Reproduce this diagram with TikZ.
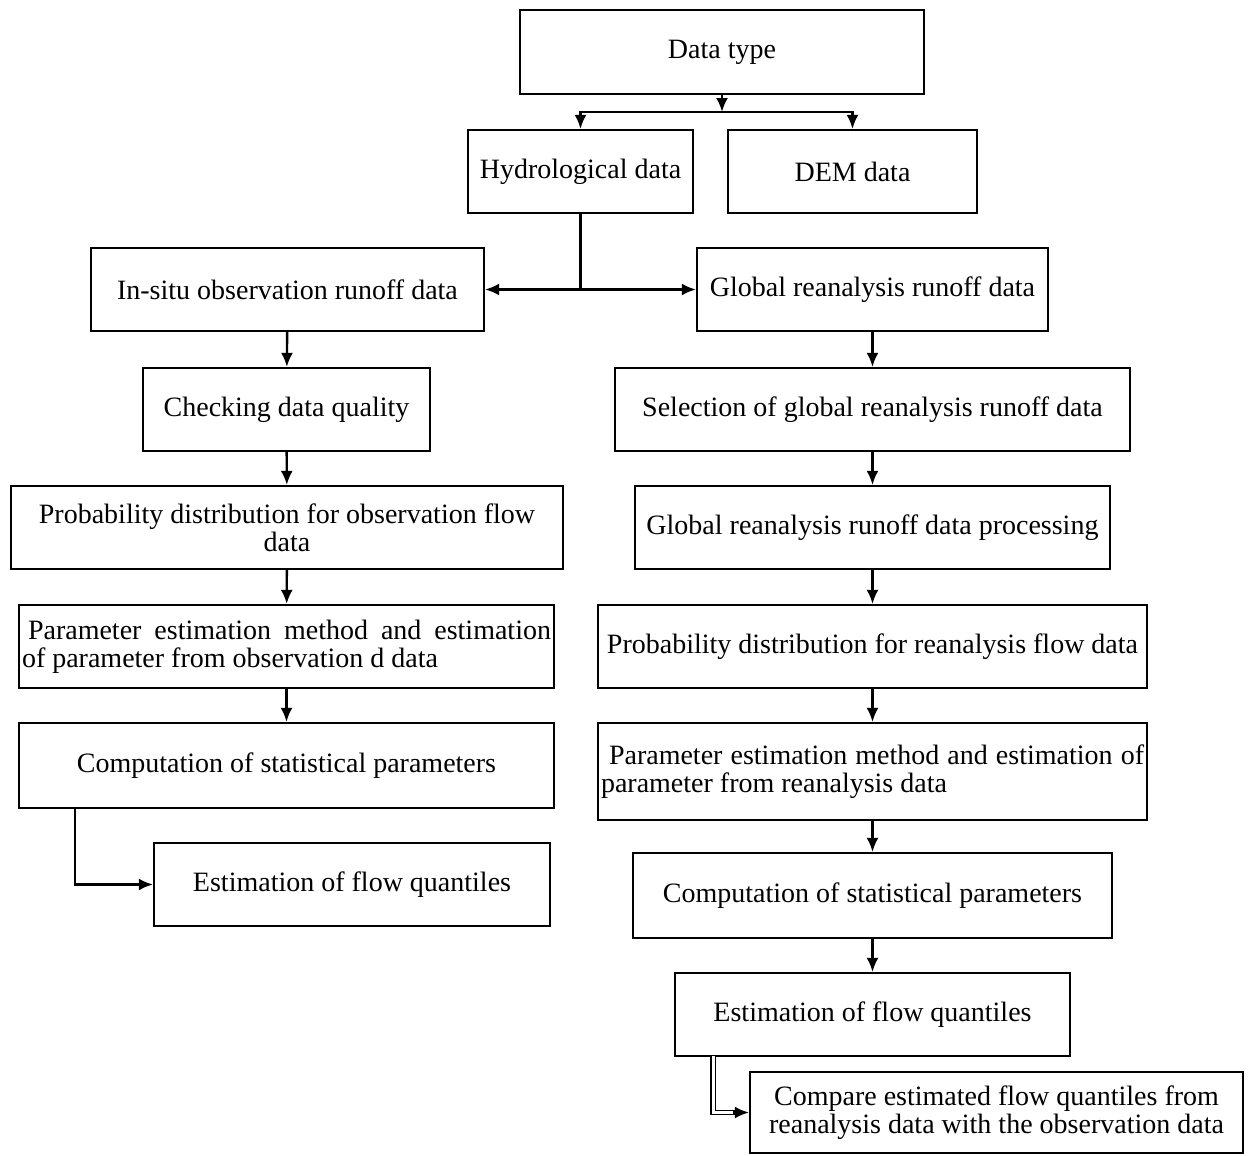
\documentclass[tikz,border=0pt]{standalone}
\usepackage{fontspec}
\setmainfont{Liberation Serif}
\usetikzlibrary{arrows.meta}
\begin{document}
\begin{tikzpicture}[x=1pt,y=-1pt,
  box/.style={draw=black, line width=2.2pt, rectangle, inner sep=3pt, align=center,
    font=\fontsize{28}{28}\selectfont, text=black},
  jbox/.style={box, align=justify},
  arr/.style={line width=2.4pt, -{Latex[length=14pt,width=12pt]}},
  ln/.style={line width=2.4pt}]
\useasboundingbox (0,0) rectangle (1248,1156);
\fill[white] (0,0) rectangle (1248,1156);
% top
\node[box, minimum width=404pt, minimum height=84pt] (dtype) at (722,52) {Data type};
\node[box, minimum width=225pt, minimum height=83pt] (hydro) at (580.5,171.5) {Hydrological data};
\node[box, minimum width=249pt, minimum height=83pt] (dem) at (852.5,171.5) {DEM data};
% left column
\node[box, minimum width=393pt, minimum height=83pt] (insitu) at (287.5,289.5) {In-situ observation runoff data};
\node[box, minimum width=287pt, minimum height=83pt] (check) at (286.5,409.5) {Checking data quality};
\node[box, minimum width=552pt, minimum height=83pt] (probobs) at (287,527.5) {Probability distribution for observation flow\\data};
\node[jbox, minimum width=535pt, minimum height=83pt, text width=529pt] (paramobs) at (286.5,646.5) {\hspace*{6pt}Parameter estimation method and estimation\linebreak of parameter from observation d data};
\node[box, minimum width=535pt, minimum height=85pt] (compobs) at (286.5,765.5) {Computation of statistical parameters};
\node[box, minimum width=396pt, minimum height=83pt] (estobs) at (352,884.5) {Estimation of flow quantiles};
% right column
\node[box, minimum width=351pt, minimum height=83pt] (global) at (872.5,289.5) {Global reanalysis runoff data};
\node[box, minimum width=515pt, minimum height=83pt] (select) at (872.5,409.5) {Selection of global reanalysis runoff data};
\node[box, minimum width=475pt, minimum height=83pt] (process) at (872.5,527.5) {Global reanalysis runoff data processing};
\node[box, minimum width=549pt, minimum height=83pt] (probre) at (872.5,646.5) {Probability distribution for reanalysis flow data};
\node[jbox, minimum width=549pt, minimum height=97pt, text width=543pt] (paramre) at (872.5,771.5) {\hspace*{8pt}Parameter estimation method and estimation of\linebreak parameter from reanalysis data};
\node[box, minimum width=479pt, minimum height=85pt] (compre) at (872.5,895.5) {Computation of statistical parameters};
\node[box, minimum width=395pt, minimum height=83pt] (estre) at (872.5,1014.5) {Estimation of flow quantiles};
\node[box, minimum width=493pt, minimum height=81pt] (compare) at (996.5,1112.5) {Compare estimated flow quantiles from\\reanalysis data with the observation data};
% connectors
\coordinate (split) at (722,112);
\draw[arr] (dtype.south) -- (split);
\draw[arr] (split) -| (hydro.north);
\draw[arr] (split) -| (dem.north);
\draw[arr] (hydro.south) |- (insitu.east);
\draw[arr] (hydro.south) |- (global.west);
\draw[arr] (insitu) -- (check);
\draw[arr] (check) -- (probobs);
\draw[arr] (probobs) -- (paramobs);
\draw[arr] (paramobs) -- (compobs);
\draw[arr] (compobs.south -| 75,0) |- (estobs.west);
\draw[arr] (global) -- (select);
\draw[arr] (select) -- (process);
\draw[arr] (process) -- (probre);
\draw[arr] (probre) -- (paramre);
\draw[arr] (paramre) -- (compre);
\draw[arr] (compre) -- (estre);
\coordinate (c1) at (713,1056);
\coordinate (c2) at ([xshift=-12pt]compare.west);
\draw[double=white, double distance=3pt, line width=1.4pt] (c1) |- (c2);
\draw[arr] ([xshift=-16pt]compare.west) -- (compare.west);
\end{tikzpicture}
\end{document}
